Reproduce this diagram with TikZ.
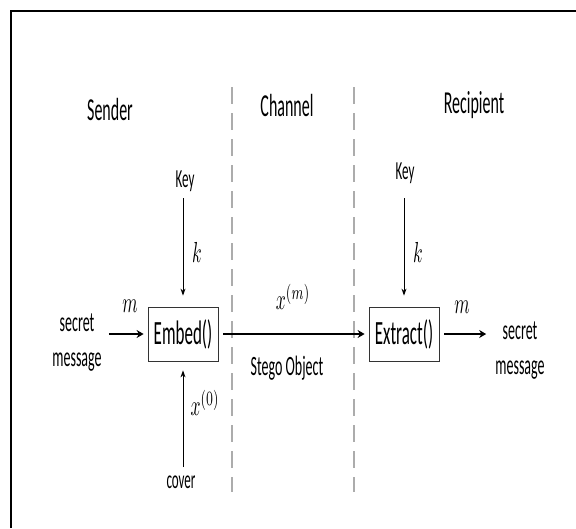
\documentclass[tikz,border=0pt]{standalone}
\usepackage{fontspec}
\usepackage{graphicx}
\usepackage{tikz}
\usetikzlibrary{arrows.meta, positioning}
\newfontfamily\narrow[FakeStretch=0.5]{Carlito}
\newcommand{\mlbl}[1]{\scalebox{1.75}[2.9]{$#1$}}
\tikzset{
  head/.style={font=\narrow\fontsize{32}{38}\selectfont, inner sep=0pt, anchor=base},
  lbl/.style={font=\narrow\fontsize{28}{35}\selectfont, inner sep=0pt, align=center},
  key/.style={font=\narrow\fontsize{26}{31}\selectfont, inner sep=0pt, anchor=base},
  func/.style={rectangle, draw=black!80, line width=0.8pt, minimum width=70pt, minimum height=54pt, inner sep=0pt, font=\narrow\fontsize{34}{40}\selectfont},
  sym/.style={inner sep=0pt},
  thin/.style={-{Stealth[length=7pt,width=5pt]}, line width=0.9pt},
  thick/.style={-{Stealth[length=7pt,width=8pt]}, line width=2.2pt},
  divider/.style={dash pattern=on 17pt off 9pt, gray!65, line width=1.8pt},
}
\begin{document}
\begin{tikzpicture}[x=1pt,y=-1pt]
\useasboundingbox (0,0) rectangle (576,528);
\draw[line width=1.8pt] (11,528) -- (11,11) -- (576,11);
\draw[divider] (232,87) -- (232,492);
\draw[divider] (354,87) -- (354,492);
\node[head] (sender) at (110,120) {Sender};
\node[head] (channel) at (287,116) {Channel};
\node[head] (recipient) at (474,113) {Recipient};
\node[func] (embed) at (183,334) {Embed()};
\node[func] (extract) at (404,334) {Extract()};
\node[key] (keyL) at (185,187) {Key};
\node[key] (keyR) at (405,179) {Key};
\node[lbl] (msgL) at (77,343) {secret\\message};
\node[lbl] (msgR) at (520,351) {secret\\message};
\node[key] (cover) at (181,488) {cover};
\node[lbl, anchor=base] (stego) at (287,375) {Stego Object};
\node[sym] (kL) at (197,252) {\mlbl{k}};
\node[sym] (kR) at (418,252) {\mlbl{k}};
\node[sym] (mL) at (130,306) {\mlbl{m}};
\node[sym] (mR) at (462,307) {\mlbl{m}};
\node[sym] (xm) at (293,297) {\mlbl{x^{(m)}}};
\node[sym] (x0) at (205,403) {\mlbl{x^{(0)}}};
\draw[thin, shorten <=7pt, shorten >=11pt] (keyL.south -| embed.north) -- (embed.north);
\draw[thin, shorten <=15pt, shorten >=11pt] (keyR.south -| extract.north) -- (extract.north);
\draw[thin, shorten <=8pt, shorten >=9pt] (cover.north -| embed.south) -- (embed.south);
\draw[thick, shorten <=7pt, shorten >=4pt] (msgL.east |- embed.west) -- (embed.west);
\draw[thick, shorten <=5pt, shorten >=4pt] (embed) -- (extract);
\draw[thick, shorten <=5pt, shorten >=9pt] (extract.east) -- (msgR.west |- extract.east);
\end{tikzpicture}
\end{document}
